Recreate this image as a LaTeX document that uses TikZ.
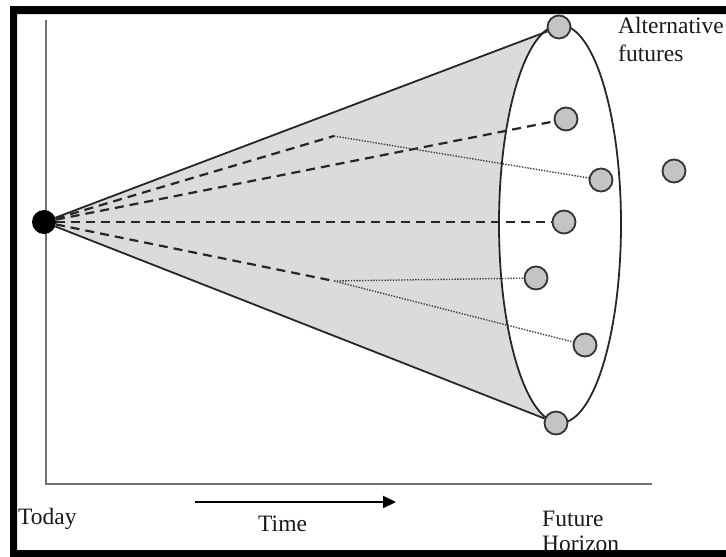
\documentclass[tikz,border=0pt]{standalone}
\usepackage{fontspec}
\setmainfont{Liberation Serif}
\usetikzlibrary{arrows.meta}
\begin{document}
\begin{tikzpicture}[x=1pt,y=-1pt,
  fut/.style={circle, draw=black!80, line width=1.8pt, fill=black!23, minimum size=23pt, inner sep=0pt},
  conel/.style={draw=black!85, line width=1.8pt},
  dashl/.style={draw=black!85, line width=2.2pt, dash pattern=on 9pt off 6pt},
  dotl/.style={draw=black!75, line width=1.4pt, dash pattern=on 1.4pt off 1.4pt},
  axisl/.style={draw=black!55, line width=2.5pt},
  lbl/.style={font=\fontsize{23.5}{25}\selectfont, text=black!90, inner sep=0pt}
]
\useasboundingbox (0,0) rectangle (726,557);
\coordinate (ctr) at (560,224);
\fill[black!14] (44,222) -- (559,27) -- (557,422) -- cycle;
\fill[white] (ctr) ellipse [x radius=61, y radius=199];
\draw[black!85, line width=1.8pt] (ctr) ellipse [x radius=61, y radius=199];
\coordinate (ax0) at (46,20);
\coordinate (ax1) at (46,484);
\coordinate (ax2) at (652,484);
\draw[axisl] (ax0) -- (ax1) -- (ax2);
\node[fut] (f1) at (559,27) {};
\node[fut] (f2) at (566,119) {};
\node[fut] (f3) at (601,180) {};
\node[fut] (f4) at (564,222) {};
\node[fut] (f5) at (536,278) {};
\node[fut] (f6) at (585,345) {};
\node[fut] (f7) at (556,423) {};
\node[fut] (f8) at (674,171) {};
\node[circle, fill=black, minimum size=24pt, inner sep=0pt] (apex) at (44,222) {};
\draw[conel] (apex) -- (f1);
\draw[conel] (apex) -- (f7);
\coordinate (k1) at (334,136);
\coordinate (k2) at (334,281);
\draw[dashl] (apex) -- (k1);
\draw[dashl] (apex) -- (f2);
\draw[dashl] (apex) -- (f4);
\draw[dashl] (apex) -- (k2);
\draw[dotl] (k1) -- (f3);
\draw[dotl] (k2) -- (f5);
\draw[dotl] (k2) -- (f6);
\coordinate (t0) at (195,502);
\coordinate (t1) at (396,502);
\draw[black, line width=2pt, -{Triangle[length=13pt,width=12pt]}] (t0) -- (t1);
\node[lbl, anchor=base west] (today) at (18,524) {Today};
\node[lbl, anchor=base west] (time) at (258,531) {Time};
\node[lbl, anchor=base west] (future) at (542,526) {Future};
\node[lbl, anchor=base west] (horizon) at (542,551) {Horizon};
\node[lbl, anchor=base west] (alt) at (618,33) {Alternative};
\node[lbl, anchor=base west] (futs) at (618,61) {futures};
\fill[black, even odd rule] (10,6) rectangle (800,600) (17,14) rectangle (780,550);
\end{tikzpicture}
\end{document}
